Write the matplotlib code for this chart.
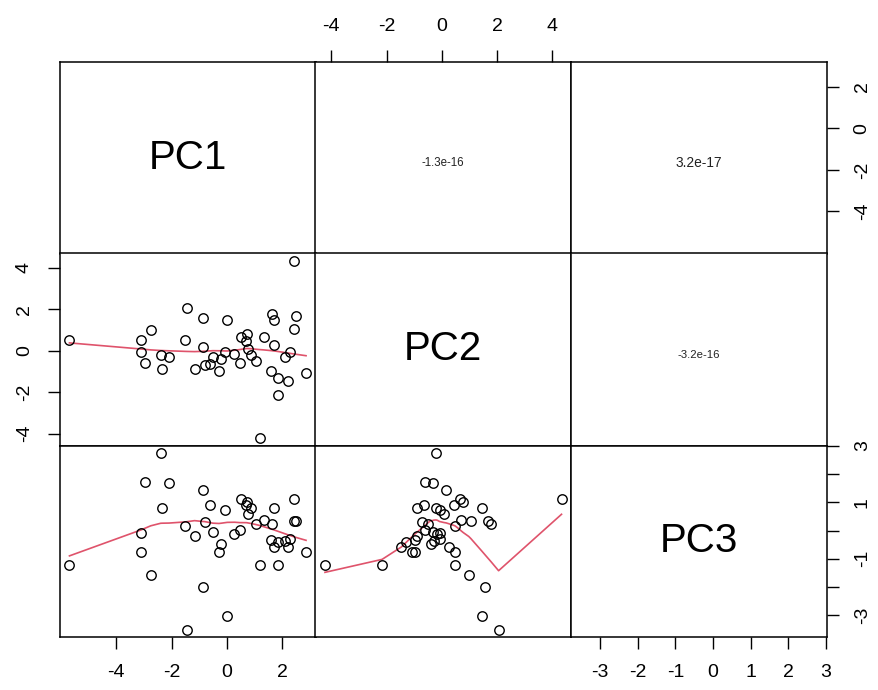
import numpy as np
import matplotlib
matplotlib.use("Agg")
import matplotlib.pyplot as plt

plt.rcParams['font.family'] = ['Liberation Sans', 'DejaVu Sans']
plt.rcParams['axes.unicode_minus'] = False

# ---- data ----
var_names = ["PC1", "PC2", "PC3"]
pc1 = [-5.68, -3.11, -3.09, -2.97, -2.75, -2.39, -2.33, -2.09, -1.52, -1.45,
       -1.17, -0.86, -0.85, -0.81, -0.63, -0.51, -0.29, -0.21, -0.06, 0.01,
       0.27, 0.46, 0.51, 0.73, 0.69, 0.74, 0.87, 1.04, 1.18, 1.32,
       1.61, 1.60, 1.71, 1.68, 1.85, 1.83, 2.09, 2.19, 2.28, 2.40,
       2.41, 2.50, 2.85]
pc2 = [0.49, 0.49, -0.08, -0.60, 0.98, -0.21, -0.89, -0.33, 0.49, 2.06,
       -0.89, 1.56, 0.16, -0.70, -0.65, -0.33, -0.98, -0.40, -0.08, 1.46,
       -0.16, -0.60, 0.65, 0.78, 0.45, 0.08, -0.21, -0.49, -4.23, 0.68,
       1.79, -0.98, 1.46, 0.28, -1.30, -2.16, -0.29, -1.46, -0.08, 4.34,
       1.06, 1.66, -1.09]
pc3 = [-1.22, -0.77, -0.08, 1.73, -1.59, 2.76, 0.80, 1.67, 0.15, -3.52,
       -0.21, -2.01, 1.45, 0.30, 0.90, -0.05, -0.77, -0.49, 0.72, -3.02,
       -0.11, 0.03, 1.11, 1.01, 0.91, 0.60, 0.80, 0.24, -1.22, 0.36,
       0.24, -0.33, 0.81, -0.59, -0.41, -1.22, -0.37, -0.59, -0.29, 1.10,
       0.34, 0.34, -0.77]
cor_labels = {(0, 1): "-1.3e-16", (0, 2): "3.2e-17", (1, 2): "-3.2e-16"}
cor_sizes = {(0, 1): 8.3, (0, 2): 9.9, (1, 2): 8.2}
ticks = [[-4, -2, 0, 2], [-4, -2, 0, 2, 4], [-3, -2, -1, 0, 1, 2, 3]]
ytick_labels_row3 = ["-3", "", "-1", "", "1", "", "3"]
ticks_row1 = [-4, -2, 0, 2]

data = [np.array(pc1), np.array(pc2), np.array(pc3)]


def lowess(x, y, f=2/3, it=3):
    o = np.argsort(x, kind="stable")
    x = np.asarray(x, float)[o]
    y = np.asarray(y, float)[o]
    n = len(x)
    ns = max(min(int(f * n + 1e-7), n), 2)
    rng = x[-1] - x[0]
    rw = np.ones(n)
    ys = np.zeros(n)
    for k in range(it + 1):
        nleft, nright = 0, ns - 1
        for i in range(n):
            xs = x[i]
            while nright < n - 1:
                d1 = xs - x[nleft]
                d2 = x[nright + 1] - xs
                if d1 <= d2:
                    break
                nleft += 1
                nright += 1
            h = max(xs - x[nleft], x[nright] - xs)
            h9, h1 = 0.999 * h, 0.001 * h
            w = np.zeros(n)
            for j in range(nleft, n):
                r = abs(x[j] - xs)
                if r <= h9:
                    w[j] = 1.0 if r <= h1 else (1 - (r / h) ** 3) ** 3
                    w[j] *= rw[j]
                elif x[j] > xs:
                    break
            a = w.sum()
            if a <= 0:
                ys[i] = y[i]
                continue
            w = w / a
            if h > 0:
                aa = np.sum(w * x)
                c = np.sum(w * (x - aa) ** 2)
                if np.sqrt(c) > 0.001 * rng:
                    b = (xs - aa) / c
                    w = w * (b * (x - aa) + 1.0)
            ys[i] = np.sum(w * y)
        if k == it:
            break
        res = y - ys
        cmad = 6 * np.median(np.abs(res))
        if cmad < 1e-7 * np.mean(np.abs(y)):
            break
        r = np.abs(res)
        rw = np.where(r <= 0.001 * cmad, 1.0,
                      np.where(r <= 0.999 * cmad, (1 - (r / cmad) ** 2) ** 2, 0.0))
    return x, ys


def lim(v):
    r = v.max() - v.min()
    return v.min() - 0.04 * r, v.max() + 0.04 * r


W, H = 879, 690
fig = plt.figure(figsize=(W / 100, H / 100), dpi=100)
xe = [60, 315.5, 571, 826.5]
ye = [62, 253.5, 445.5, 637]
red = "#DF536B"
tick_kw = dict(length=8.6, width=1.0, labelsize=14, pad=11)

for r in range(3):
    for c in range(3):
        ax = fig.add_axes([xe[c] / W, 1 - ye[r + 1] / H,
                           (xe[c + 1] - xe[c]) / W, (ye[r + 1] - ye[r]) / H])
        ax.set_xlim(*lim(data[c]))
        ax.set_ylim(*lim(data[r]))
        for s in ax.spines.values():
            s.set_linewidth(1.1)
        ax.tick_params(axis="both", which="both", bottom=False, top=False,
                       left=False, right=False, labelbottom=False,
                       labeltop=False, labelleft=False, labelright=False)
        if r == c:
            ax.text(0.5, 0.5, var_names[r], transform=ax.transAxes,
                    ha="center", va="center", fontsize=29)
        elif r > c:
            ax.plot(data[c], data[r], "o", mfc="none", mec="black",
                    ms=6.8, mew=1.0, zorder=3)
            sx, sy = lowess(data[c], data[r])
            ax.plot(sx, sy, color=red, lw=1.2, zorder=2)
        else:
            ax.text(0.5, 0.47, cor_labels[(r, c)], transform=ax.transAxes,
                    ha="center", va="center", fontsize=cor_sizes[(r, c)],
                    color="#222222")
        # x axes
        if c == 1 and r == 0:
            ax.set_xticks(ticks[1])
            ax.tick_params(axis="x", top=True, labeltop=True, direction="out", **tick_kw)
        if r == 2 and c in (0, 2):
            ax.set_xticks(ticks[c])
            ax.tick_params(axis="x", bottom=True, labelbottom=True, direction="out", **tick_kw)
        # y axes
        if r == 0 and c == 2:
            ax.set_yticks(ticks_row1)
            ax.tick_params(axis="y", right=True, labelright=True, direction="out", **tick_kw)
            for lb in ax.get_yticklabels():
                lb.set_rotation(90)
                lb.set_va("center")
        if r == 1 and c == 0:
            ax.set_yticks(ticks[1])
            ax.tick_params(axis="y", left=True, labelleft=True, direction="out", **tick_kw)
            for lb in ax.get_yticklabels():
                lb.set_rotation(90)
                lb.set_va("center")
        if r == 2 and c == 2:
            ax.set_yticks(ticks[2])
            ax.set_yticklabels(ytick_labels_row3)
            ax.tick_params(axis="y", right=True, labelright=True, direction="out", **tick_kw)
            for lb in ax.get_yticklabels():
                lb.set_rotation(90)
                lb.set_va("center")

fig.savefig("out.png", dpi=100)
